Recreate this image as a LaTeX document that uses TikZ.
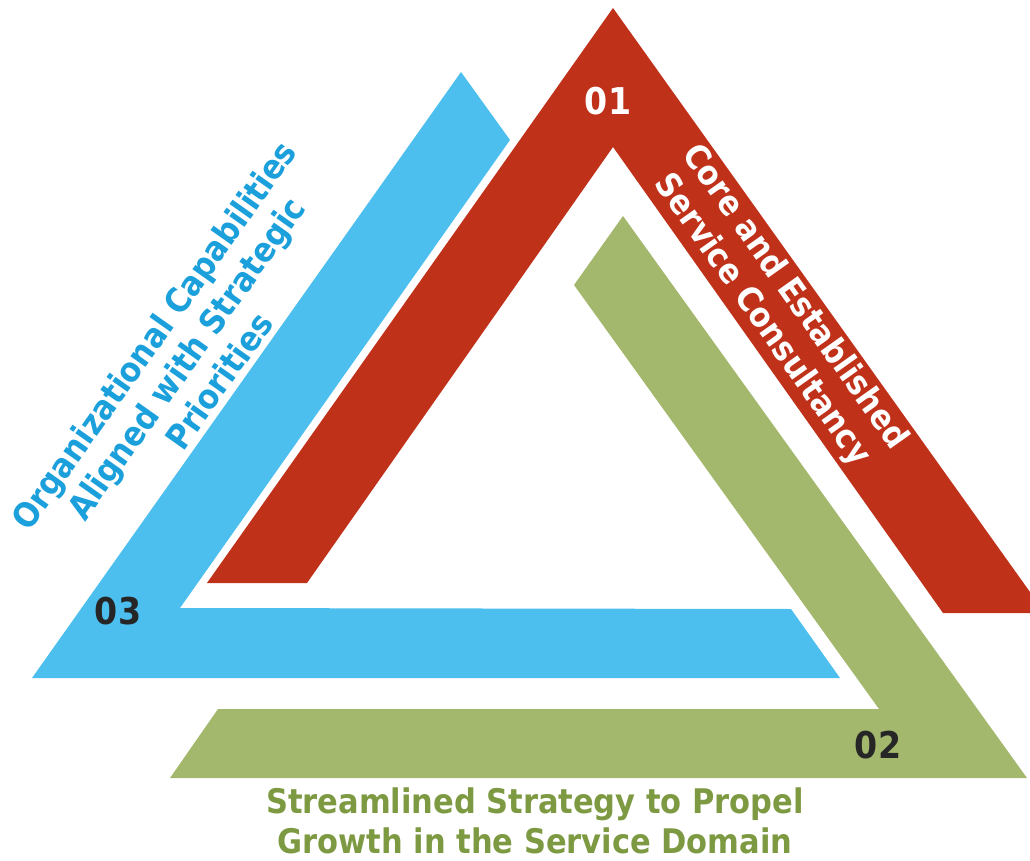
\documentclass[tikz,border=0pt]{standalone}
\usepackage{fontspec}
\setmainfont{DejaVu Sans Condensed}
\usepackage{tikz}
\usetikzlibrary{positioning}

\definecolor{triRed}{RGB}{192,49,26}
\definecolor{triBlue}{RGB}{77,191,238}
\definecolor{triGreen}{RGB}{163,184,108}
\definecolor{txtBlue}{RGB}{27,160,220}
\definecolor{txtGreen}{RGB}{125,154,66}
\definecolor{txtDark}{RGB}{38,38,38}

\begin{document}
\begin{tikzpicture}[x=0.02cm, y=-0.02cm,
  numlabel/.style={font=\bfseries\fontsize{21}{25}\selectfont, text=txtDark, inner sep=0pt},
  sidelabel/.style={font=\bfseries\fontsize{19.3}{22.7}\selectfont, align=center, inner sep=0pt}]
\useasboundingbox (0,0) rectangle (1030,861);

% the three bands
\fill[triBlue] (461,72) -- (510,140) -- (180,608) -- (791,609) -- (840,678) -- (32,678) -- cycle;
\fill[triRed] (613,8) -- (1045,613) -- (943,613) -- (613,147) -- (307,583) -- (207,583) -- cycle;
\fill[triGreen] (623,216) -- (1027,778) -- (170,778) -- (218,709) -- (879,709) -- (574,285) -- cycle;

% numbers
\node (num01) [numlabel, text=white] at (608,101) {01};
\node (num02) [numlabel] at (878,745) {02};
\node (num03) [numlabel] at (118,611) {03};

% captions
\node (core) [sidelabel, text=white, rotate=-54.7] at (778,309) {Core and Established\\Service Consultancy};
\node (orgcap) [sidelabel, text=txtBlue, rotate=54.7] at (186,358) {Organizational Capabilities\\Aligned with Strategic\\Priorities};
\node (stream) [sidelabel, text=txtGreen] at (535,821) {Streamlined Strategy to Propel\\Growth in the Service Domain};
\end{tikzpicture}
\end{document}
